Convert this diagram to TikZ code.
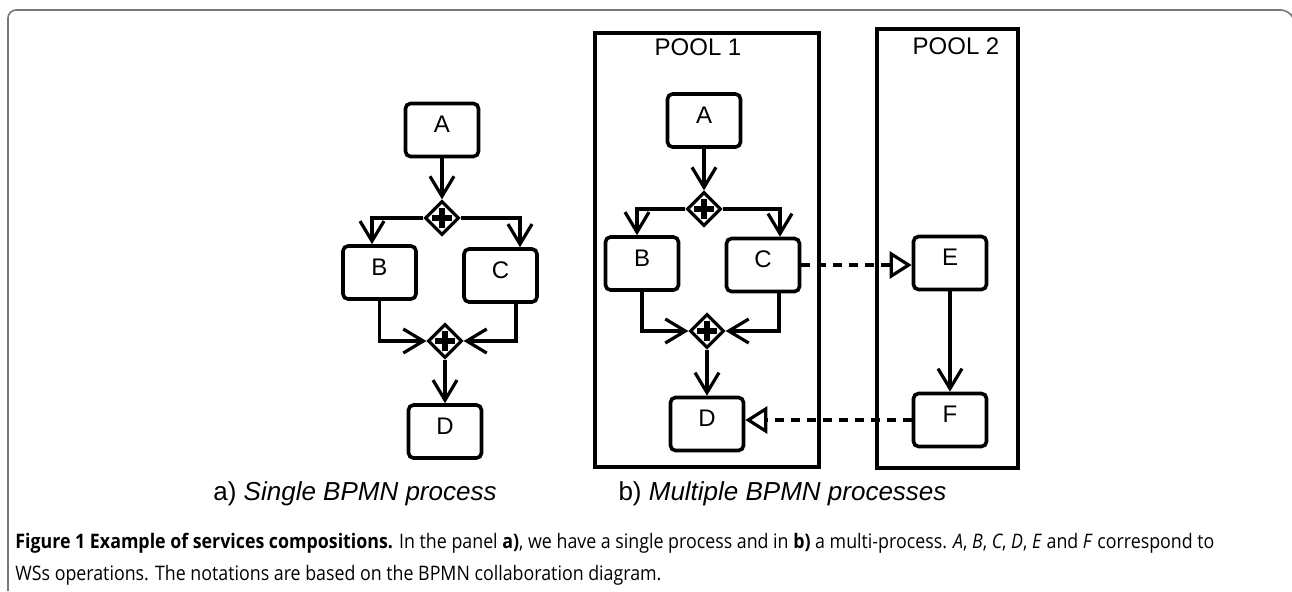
\documentclass[tikz,border=0pt]{standalone}
\usepackage{fontspec}
\setmainfont{Liberation Sans}
\newfontfamily\capfont[FakeStretch=0.89]{Open Sans}
\usetikzlibrary{shapes.geometric,arrows.meta,positioning}
\definecolor{framegray}{RGB}{120,120,120}

\tikzset{
	task/.style={draw, rectangle, rounded corners=2.5pt, line width=1.8pt, minimum width=36.5pt, minimum height=26.5pt, inner sep=0pt, text height=8.6pt, text depth=6pt, font=\fontsize{12}{14}\selectfont},
	gate/.style={draw, diamond, line width=1.6pt, minimum width=17pt, minimum height=17pt, inner sep=0pt, fill=white,
		path picture={
			\fill[black] ([xshift=-4.8pt,yshift=-1.4pt]path picture bounding box.center) rectangle ([xshift=4.8pt,yshift=1.4pt]path picture bounding box.center);
			\fill[black] ([xshift=-1.4pt,yshift=-4.8pt]path picture bounding box.center) rectangle ([xshift=1.4pt,yshift=4.8pt]path picture bounding box.center);}},
	pool/.style={draw, rectangle, line width=1.6pt, inner sep=0pt},
	flow/.style={line width=1.6pt, -{Straight Barb[length=10pt,width=12pt,line width=1.6pt]}},
	msg/.style={line width=1.6pt, dash pattern=on 4.5pt off 3.5pt, -{Triangle[open,length=11pt,width=13.5pt,line width=1.6pt]}}
}

\begin{document}
\begin{tikzpicture}[x=0.5pt, y=-0.5pt]
	\useasboundingbox (0,0) rectangle (1292,591);
	% page frame
	\draw[framegray, line width=0.8pt, rounded corners=4pt] (8,591) -- (8,10) -- (1289,10) -- (1291,14);

	% a) single process
	\node[task] (a1) at (442,130) {A};
	\node[gate] (g1) at (442,218) {};
	\node[task] (b1) at (379.5,272.5) {B};
	\node[task] (c1) at (500.5,275.5) {C};
	\node[gate] (j1) at (445,341) {};
	\node[task] (d1) at (445,431.5) {D};
	\draw[flow] (a1) -- (g1);
	\draw[flow] (g1.west) -| ([xshift=-3.75pt]b1.north);
	\draw[flow] (g1.east) -| ([xshift=9.75pt]c1.north);
	\draw[flow] (b1.south) |- (j1.west);
	\draw[flow] ([xshift=7.75pt]c1.south) |- (j1.east);
	\draw[flow] (j1) -- (d1);

	% b) two pools
	\node[pool, minimum width=112pt, minimum height=217pt] (pool1) at (707,250) {};
	\node[pool, minimum width=70.5pt, minimum height=219.5pt] (pool2) at (947.5,248.5) {};
	\node[font=\fontsize{12}{14}\selectfont] (lbl1) at (698,47) {POOL 1};
	\node[font=\fontsize{12}{14}\selectfont] (lbl2) at (956,46) {POOL 2};

	\node[task] (a2) at (704,120.5) {A};
	\node[gate] (g2) at (704,209) {};
	\node[task] (b2) at (642,263.5) {B};
	\node[task] (c2) at (763,265) {C};
	\node[gate] (j2) at (707,331) {};
	\node[task] (d2) at (707,424) {D};
	\node[task] (e2) at (950,263) {E};
	\node[task] (f2) at (950,420) {F};
	\draw[flow] (a2) -- (g2);
	\draw[flow] (g2.west) -| ([xshift=-2.5pt]b2.north);
	\draw[flow] (g2.east) -| ([xshift=8.5pt]c2.north);
	\draw[flow] (b2.south) |- (j2.west);
	\draw[flow] ([xshift=8pt]c2.south) |- (j2.east);
	\draw[flow] (j2) -- (d2);
	\draw[flow] (e2) -- (f2);
	\draw[msg] (c2.east) -- (c2.east -| e2.west);
	\draw[msg] (f2.west) -- (f2.west -| d2.east);

	% panel titles
	\node[font=\fontsize{13}{15}\selectfont] (ta) at (355,494) {a) \textit{Single BPMN process}};
	\node[font=\fontsize{13}{15}\selectfont] (tb) at (782.5,494) {b) \textit{Multiple BPMN processes}};

	% caption
	\node[anchor=north west, align=left, inner sep=0pt, font=\capfont\fontsize{10}{13}\selectfont] (cap) at (15,533)
		{\textbf{Figure 1 Example of services compositions.} In the panel \textbf{a)}, we have a single process and in \textbf{b)} a multi-process. \textit{A}, \textit{B}, \textit{C}, \textit{D}, \textit{E} and \textit{F} correspond to\\[3pt]
		WSs operations. The notations are based on the BPMN collaboration diagram.};
\end{tikzpicture}
\end{document}
